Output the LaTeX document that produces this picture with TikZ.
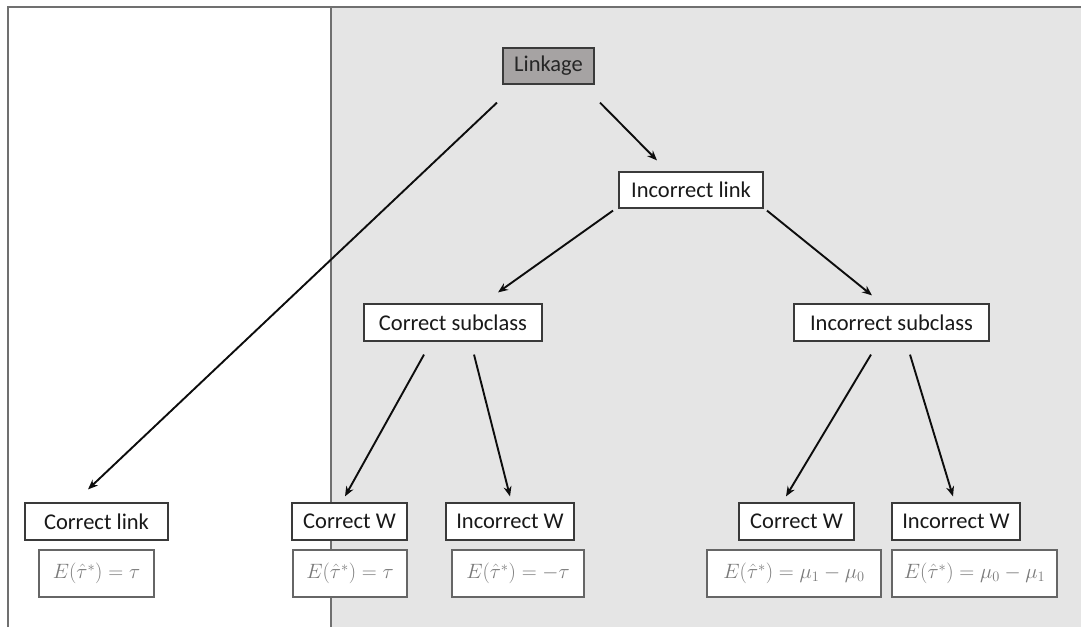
\documentclass[tikz,border=0pt]{standalone}
\usepackage{fontspec}
\setmainfont{Carlito}
\usetikzlibrary{arrows.meta}
\definecolor{panelgrey}{HTML}{E5E5E5}
\definecolor{framegrey}{HTML}{707070}
\definecolor{rootfill}{HTML}{A6A3A3}
\definecolor{boxline}{HTML}{3A3A3A}
\definecolor{mathgrey}{HTML}{7A7A7A}
\begin{document}
\begin{tikzpicture}[x=1pt,y=-1pt,
  frame/.style={draw=framegrey,line width=1.5pt},
  label/.style={draw=boxline,line width=1.2pt,fill=white,rectangle,
    inner sep=0pt,minimum height=37pt,text=black!90,
    font=\fontsize{22.5}{26}\selectfont},
  root/.style={label,fill=rootfill,text=black!85,minimum height=36pt},
  result/.style={draw=black!60,line width=1.2pt,fill=white,rectangle,
    inner sep=0pt,minimum height=47pt,text=mathgrey,
    font=\fontsize{21.5}{24}\selectfont},
  arr/.style={-{Stealth[length=10pt,width=8pt]},line width=1.9pt,draw=black!95}]
\useasboundingbox (0,0) rectangle (1081,627);

% background panels
\fill[panelgrey] (331,7) rectangle (1081,627);
\draw[frame] (8,627) -- (8,7) -- (1081,7);
\draw[frame] (331,7) -- (331,627);

% tree nodes
\node[root,minimum width=91pt] (lnk) at (548.5,66) {Linkage};
\node[label,minimum width=144pt,minimum height=36pt] (inl) at (691,190) {Incorrect link};
\node[label,minimum width=178pt] (csc) at (453,322.5) {Correct subclass};
\node[label,minimum width=195pt] (isc) at (891.5,322.5) {Incorrect subclass};

\node[label,minimum width=143pt] (cl) at (96.5,521.5) {Correct link};
\node[label,minimum width=115pt] (cwl) at (349.5,521.5) {Correct W};
\node[label,minimum width=128pt] (iwl) at (510,521.5) {Incorrect W};
\node[label,minimum width=115pt] (cwr) at (796.5,521.5) {Correct W};
\node[label,minimum width=128pt] (iwr) at (956,521.5) {Incorrect W};

% expected values (the first three sit a little left of centre)
\node[result,minimum width=115pt] (e1) at (96.5,573.5) {$E(\hat{\tau}^{*})=\tau$\hspace{11pt}};
\node[result,minimum width=114pt] (e2) at (350,573.5) {$E(\hat{\tau}^{*})=\tau$\hspace{9pt}};
\node[result,minimum width=132pt] (e3) at (518,573.5) {$E(\hat{\tau}^{*})=-\tau$\hspace{14pt}};
\node[result,minimum width=174pt] (e4) at (794,573.5) {$E(\hat{\tau}^{*})=\mu_1-\mu_0$};
\node[result,minimum width=165pt] (e5) at (974.5,573.5) {$E(\hat{\tau}^{*})=\mu_0-\mu_1$};

% connectors
\draw[arr] ([xshift=-51.5pt,yshift=-18pt]lnk.south) -- ([xshift=-8.5pt,yshift=13pt]cl.north);
\draw[arr] ([xshift=51.5pt,yshift=-18pt]lnk.south) -- ([xshift=-34pt,yshift=11pt]inl.north);
\draw[arr] ([xshift=-78pt,yshift=-2pt]inl.south) -- ([xshift=45pt,yshift=11pt]csc.north);
\draw[arr] ([xshift=76pt,yshift=-2pt]inl.south) -- ([xshift=-19.5pt,yshift=8pt]isc.north);
\draw[arr] ([xshift=-29pt,yshift=-13pt]csc.south) -- ([xshift=-4.5pt,yshift=6pt]cwl.north);
\draw[arr] ([xshift=21pt,yshift=-13pt]csc.south) -- ([yshift=6pt]iwl.north);
\draw[arr] ([xshift=-20.5pt,yshift=-13pt]isc.south) -- ([xshift=-10.5pt,yshift=6pt]cwr.north);
\draw[arr] ([xshift=18.5pt,yshift=-13pt]isc.south) -- ([xshift=-3pt,yshift=6pt]iwr.north);
\end{tikzpicture}
\end{document}
